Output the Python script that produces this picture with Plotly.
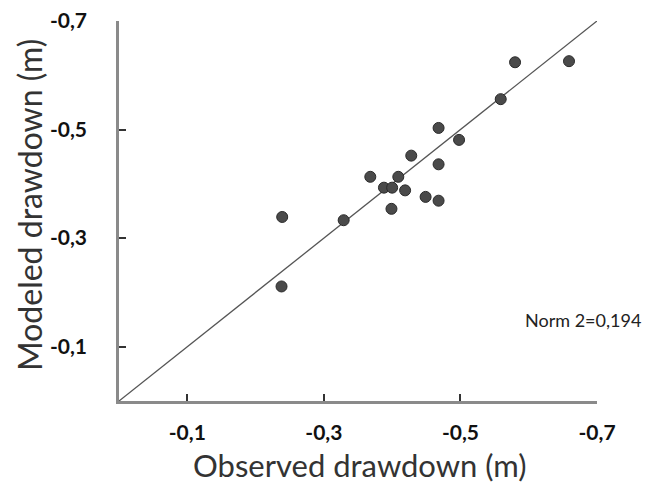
import plotly.graph_objects as go

observed = [-0.580, -0.659, -0.559, -0.468, -0.498, -0.428, -0.468, -0.368, -0.409,
            -0.388, -0.400, -0.419, -0.449, -0.468, -0.399, -0.239, -0.329, -0.238]
modeled = [-0.624, -0.626, -0.556, -0.503, -0.481, -0.452, -0.436, -0.413, -0.413,
           -0.393, -0.393, -0.388, -0.376, -0.369, -0.354, -0.339, -0.333, -0.211]

tick_vals = [-0.1, -0.3, -0.5, -0.7]
tick_text = ["-0,1", "-0,3", "-0,5", "-0,7"]
line_ends = [0, -0.7]
x_title = "Observed drawdown (m)"
y_title = "Modeled drawdown (m)"
norm_text = "Norm 2=0,194"

fig = go.Figure()
fig.add_trace(go.Scatter(x=line_ends, y=line_ends, mode="lines",
                         line=dict(color="#555555", width=1.3), hoverinfo="skip"))
fig.add_trace(go.Scatter(x=observed, y=modeled, mode="markers",
                         marker=dict(size=11, color="#4a4a4a",
                                     line=dict(color="#2a2a2a", width=1))))

font_fam = "Lato, 'Open Sans', sans-serif"
axis_common = dict(
    tickvals=tick_vals, ticktext=tick_text, showgrid=False, zeroline=False,
    showline=True, linecolor="#8a8a8a", linewidth=2.5, automargin=False,
    ticks="inside", ticklen=7, tickwidth=2, tickcolor="#333333",
    ticklabeloverflow="allow",
    tickfont=dict(family=font_fam, size=21, color="#111111", weight="bold"),
)
fig.update_xaxes(range=[0, -0.7], ticklabelstandoff=11, **axis_common)
fig.update_yaxes(range=[0, -0.7], ticklabelstandoff=25, **axis_common)

# page body has an 8px margin; compensate so the plot lands where the reference has it
W, H = 653, 475
L, T = 111, 13
PW, PH = 478, 380
R, B = W - L - PW, H - T - PH
X0, Y0 = 119, 401  # plot origin in window pixels


def px(x):
    return (x - X0) / PW


def py(y):
    return (Y0 - y) / PH


fig.add_annotation(text=x_title, x=px(360), y=py(465), xref="paper", yref="paper",
                   xanchor="center", yanchor="middle", showarrow=False,
                   font=dict(family=font_fam, size=31, color="#333333"))
fig.add_annotation(text=y_title, x=px(30), y=py(205), xref="paper", yref="paper",
                   xanchor="center", yanchor="middle", showarrow=False, textangle=-90,
                   font=dict(family=font_fam, size=32, color="#333333"))
fig.add_annotation(text=norm_text, x=px(583), y=py(320),
                   xref="paper", yref="paper", xanchor="center", yanchor="middle",
                   showarrow=False, font=dict(family=font_fam, size=18, color="#222222"))

fig.update_layout(width=W, height=H, showlegend=False,
                  paper_bgcolor="white", plot_bgcolor="white",
                  margin=dict(l=L, r=R, t=T, b=B))

fig.write_html("out.html")
